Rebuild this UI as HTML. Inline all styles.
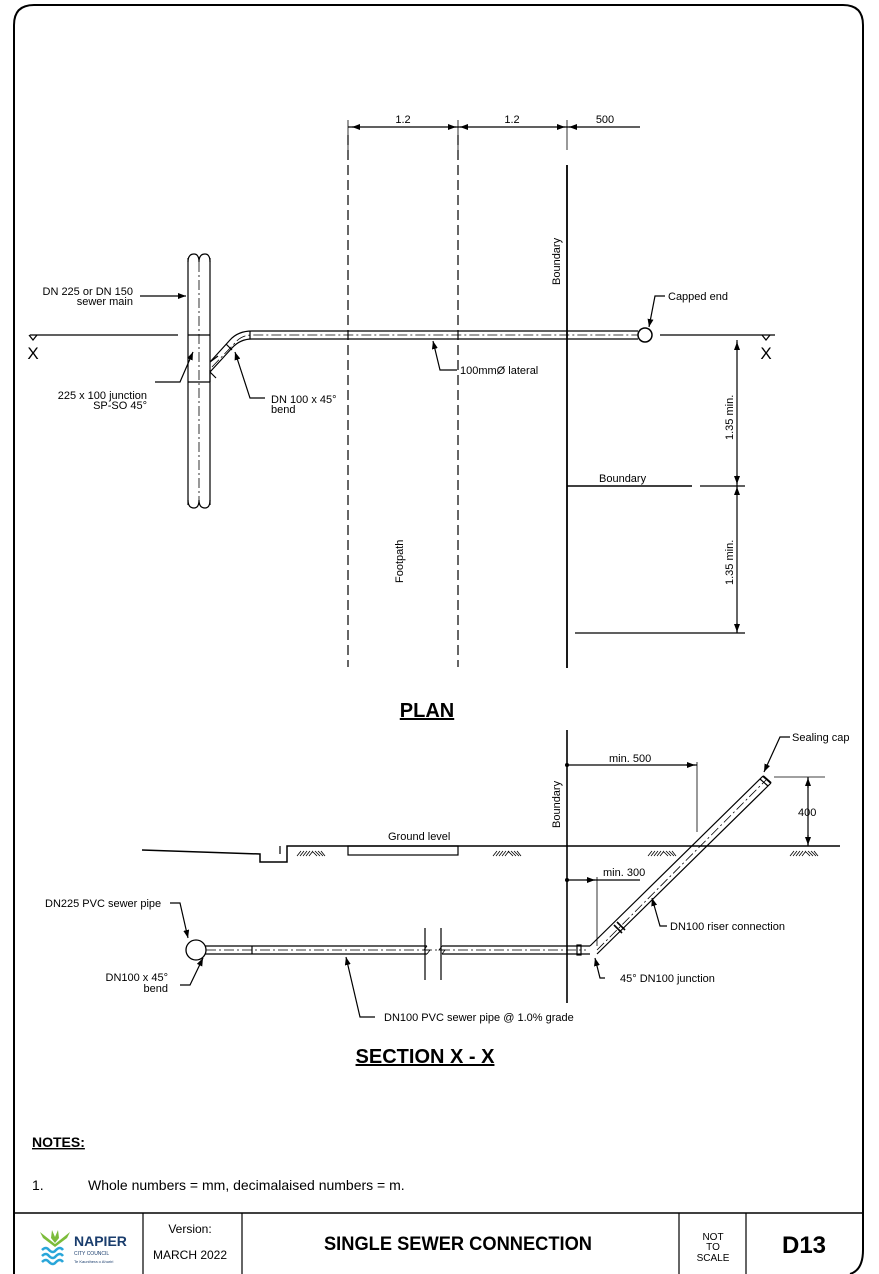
<!DOCTYPE html>
<html><head><meta charset="utf-8"><style>
html,body{margin:0;padding:0;background:#fff;}
svg{display:block;font-family:"Liberation Sans",Arial,sans-serif;}
</style></head><body>
<svg width="879" height="1274" viewBox="0 0 879 1274" xmlns="http://www.w3.org/2000/svg">
<defs>
<marker id="ar" markerWidth="8" markerHeight="6" refX="8" refY="3" orient="auto" markerUnits="userSpaceOnUse"><path d="M0,0 L8,3 L0,6 z" fill="#000"/></marker>
<marker id="ars" markerWidth="8" markerHeight="6" refX="0" refY="3" orient="auto" markerUnits="userSpaceOnUse"><path d="M8,0 L0,3 L8,6 z" fill="#000"/></marker>
<g id="hatch" stroke="#000" stroke-width="0.8" fill="none">
<path d="M0,8 l4,-5 M3,8 l4,-5 M6,8 l4,-5 M9,8 l4,-5 M12,8 l4,-5 M15,3 l5,5 M18,3 l5,5 M21,3 l5,5 M24,3 l4,5"/>
</g>
</defs>
<!-- frame -->
<path d="M14,1274 L14,25 Q14,5 34,5 L843,5 Q863,5 863,25 L863,1250 Q863,1270 850,1274" fill="none" stroke="#000" stroke-width="2"/>
<line x1="14" y1="1213" x2="863" y2="1213" stroke="#000" stroke-width="1.5"/>
<g stroke="#000" stroke-width="1.2">
<line x1="143" y1="1213" x2="143" y2="1274"/><line x1="242" y1="1213" x2="242" y2="1274"/>
<line x1="679" y1="1213" x2="679" y2="1274"/><line x1="746" y1="1213" x2="746" y2="1274"/>
</g>
<!-- logo -->
<g fill="#7cbc3a"><path d="M52,1230 l3,7 l3,-7 l1,8 l-4,5 l-4,-5z"/><path d="M40,1232 l15,12 l15,-12 l-3,6 l-12,9 l-12,-9z"/></g>
<g stroke="#2aa6d9" stroke-width="2.5" fill="none"><path d="M42,1250 q4,-4 7,0 q4,4 7,0 q4,-4 7,0"/><path d="M42,1256 q4,-4 7,0 q4,4 7,0 q4,-4 7,0"/><path d="M42,1262 q4,-4 7,0 q4,4 7,0 q4,-4 7,0"/></g>
<text x="74" y="1246" font-size="14" font-weight="bold" fill="#1a3d6d">NAPIER</text>
<text x="74" y="1255" font-size="5" fill="#1a3d6d">CITY COUNCIL</text>
<text x="74" y="1263" font-size="4" fill="#1a3d6d">Te Kaunihera o Ahuriri</text>
<text x="190" y="1233" font-size="12" text-anchor="middle">Version:</text>
<text x="190" y="1259" font-size="12" text-anchor="middle">MARCH 2022</text>
<text x="458" y="1250" font-size="19" font-weight="bold" text-anchor="middle" textLength="268" lengthAdjust="spacingAndGlyphs">SINGLE SEWER CONNECTION</text>
<text x="713" y="1240" font-size="10" text-anchor="middle">NOT</text>
<text x="713" y="1250" font-size="10" text-anchor="middle">TO</text>
<text x="713" y="1261" font-size="10" text-anchor="middle">SCALE</text>
<text x="804" y="1253" font-size="24" font-weight="bold" text-anchor="middle">D13</text>
<!-- notes -->
<text x="32" y="1147" font-size="14" font-weight="bold" text-decoration="underline">NOTES:</text>
<text x="32" y="1190" font-size="14">1.</text>
<text x="88" y="1190" font-size="14">Whole numbers = mm, decimalaised numbers = m.</text>

<g stroke="#000" fill="none" stroke-width="1.2">
<!-- PLAN dims -->
<line x1="348" y1="127" x2="567" y2="127"/>
<line x1="567" y1="127" x2="640" y2="127"/>
<line x1="348" y1="120" x2="348" y2="150" stroke-width="0.8"/>
<line x1="458" y1="120" x2="458" y2="150" stroke-width="0.8"/>
<line x1="567" y1="120" x2="567" y2="150" stroke-width="0.8"/>
<line x1="352" y1="127" x2="358" y2="127" marker-start="url(#ars)"/>
<line x1="448" y1="127" x2="456" y2="127" marker-end="url(#ar)"/>
<line x1="460" y1="127" x2="468" y2="127" marker-start="url(#ars)"/>
<line x1="557" y1="127" x2="565" y2="127" marker-end="url(#ar)"/>
<line x1="569" y1="127" x2="577" y2="127" marker-start="url(#ars)"/>
<!-- dashed footpath -->
<line x1="348" y1="135" x2="348" y2="667" stroke-dasharray="10,5"/>
<line x1="458" y1="135" x2="458" y2="667" stroke-dasharray="10,5"/>
<line x1="567" y1="165" x2="567" y2="668" stroke-width="1.8"/>
<!-- main pipe -->
<line x1="188" y1="258" x2="188" y2="505"/>
<line x1="210" y1="258" x2="210" y2="505"/>
<path d="M188,262 q0,-8 6,-8 q5,0 5,8 q0,-8 6,-8 q5,0 5,8"/>
<path d="M188,500 q0,8 6,8 q5,0 5,-8 q0,8 6,8 q5,0 5,-8"/>
<line x1="199" y1="262" x2="199" y2="502" stroke-width="0.8" stroke-dasharray="10,3,2,3"/>
<line x1="188" y1="335" x2="210" y2="335"/>
<line x1="188" y1="382" x2="210" y2="382"/>
<!-- section line X -->
<line x1="30" y1="335" x2="178" y2="335"/>
<line x1="660" y1="335" x2="775" y2="335"/>
<path d="M29,335 l4,5 l4,-5" />
<path d="M762,335 l4,5 l4,-5" />
<!-- bend + lateral -->
<path d="M210,362 L230,340 Q238,331 252,331 L638,331"/>
<path d="M210,382 L210,370 M210,372 L232,348 Q240,339 252,339 L638,339"/>
<path d="M210,372 L216,378 M210,362 L218,356"/>
<path d="M212,367 L234,344 Q241,335 252,335 L638,335" stroke-width="0.8" stroke-dasharray="10,3,2,3"/>
<line x1="250" y1="331" x2="250" y2="339"/>
<line x1="226" y1="344" x2="232" y2="350"/>
<circle cx="645" cy="335" r="7" stroke-width="1.5"/>
<!-- leaders -->
<line x1="140" y1="296" x2="186" y2="296" marker-end="url(#ar)"/>
<polyline points="155,382 180,382 193,352" marker-end="url(#ar)"/>
<polyline points="265,398 250,398 235,352" marker-end="url(#ar)"/>
<polyline points="457,370 440,370 433,341" marker-end="url(#ar)"/>
<polyline points="665,296 655,296 649,327" marker-end="url(#ar)"/>
<!-- right dims -->
<line x1="737" y1="340" x2="737" y2="633"/>
<line x1="737" y1="350" x2="737" y2="342" marker-end="url(#ar)"/>
<line x1="737" y1="475" x2="737" y2="484" marker-end="url(#ar)"/>
<line x1="737" y1="495" x2="737" y2="487" marker-end="url(#ar)"/>
<line x1="737" y1="623" x2="737" y2="632" marker-end="url(#ar)"/>
<line x1="567" y1="486" x2="692" y2="486" stroke-width="1.6"/>
<line x1="700" y1="486" x2="745" y2="486"/>
<line x1="575" y1="633" x2="745" y2="633"/>
<!-- SECTION -->
<line x1="567" y1="730" x2="567" y2="1003" stroke-width="1.6"/>
<path d="M142,850 L260,854 L260,862 L287,862 L287,846 L840,846" stroke-width="1.5"/>
<path d="M280,854 L280,846" />
<rect x="348" y="846" width="110" height="9"/>
<!-- main pipe horizontal -->
<line x1="205" y1="946" x2="427" y2="946"/><line x1="205" y1="954" x2="427" y2="954"/>
<line x1="442" y1="946" x2="590" y2="946"/><line x1="442" y1="954" x2="590" y2="954"/>
<path d="M427,946 l-3,4 l6,0 l-3,4" stroke-width="0.8"/>
<path d="M442,946 l-3,4 l6,0 l-3,4" stroke-width="0.8"/>
<line x1="425" y1="928" x2="425" y2="980"/><line x1="441" y1="928" x2="441" y2="980"/>
<line x1="188" y1="950" x2="586" y2="950" stroke-width="0.8" stroke-dasharray="10,3,2,3"/>
<line x1="252" y1="946" x2="252" y2="954"/>
<rect x="577" y="945" width="4" height="10"/>
<circle cx="196" cy="950" r="10" fill="#fff" stroke-width="1.3"/>
<!-- riser -->
<line x1="590" y1="946" x2="763" y2="776"/>
<line x1="597" y1="954" x2="771" y2="783"/>
<line x1="763" y1="776" x2="771" y2="783" stroke-width="2"/>
<line x1="760" y1="779" x2="768" y2="786"/>
<line x1="597" y1="950" x2="766" y2="780" stroke-width="0.8" stroke-dasharray="10,3,2,3"/>
<line x1="614" y1="925" x2="622" y2="933" stroke-width="1.6"/>
<line x1="617" y1="922" x2="625" y2="930" stroke-width="1.6"/>
<!-- section dims -->
<line x1="567" y1="765" x2="697" y2="765"/>
<line x1="686" y1="765" x2="695" y2="765" marker-end="url(#ar)"/>
<line x1="697" y1="762" x2="697" y2="832" stroke-width="0.8"/>
<line x1="567" y1="880" x2="640" y2="880"/>
<line x1="586" y1="880" x2="595" y2="880" marker-end="url(#ar)"/>
<line x1="597" y1="877" x2="597" y2="946" stroke-width="0.8"/>
<line x1="774" y1="777" x2="825" y2="777" stroke-width="0.8"/>
<line x1="808" y1="777" x2="808" y2="846"/>
<line x1="808" y1="788" x2="808" y2="778" marker-end="url(#ar)"/>
<line x1="808" y1="835" x2="808" y2="845" marker-end="url(#ar)"/>
<!-- section leaders -->
<polyline points="170,903 180,903 188,938" marker-end="url(#ar)"/>
<polyline points="180,985 190,985 203,958" marker-end="url(#ar)"/>
<polyline points="375,1017 360,1017 346,957" marker-end="url(#ar)"/>
<polyline points="605,978 600,978 595,958" marker-end="url(#ar)"/>
<polyline points="667,926 660,926 652,898" marker-end="url(#ar)"/>
<polyline points="790,737 780,737 764,772" marker-end="url(#ar)"/>
</g>
<circle cx="567" cy="765" r="2"/><circle cx="567" cy="880" r="2"/>
<use href="#hatch" x="297" y="848"/><use href="#hatch" x="493" y="848"/>
<use href="#hatch" x="648" y="848"/><use href="#hatch" x="790" y="848"/>

<!-- text -->
<g font-size="11">
<text x="403" y="123" text-anchor="middle">1.2</text>
<text x="512" y="123" text-anchor="middle">1.2</text>
<text x="605" y="123" text-anchor="middle">500</text>
<text x="133" y="295" text-anchor="end">DN 225 or DN 150</text>
<text x="133" y="305" text-anchor="end">sewer main</text>
<text x="147" y="399" text-anchor="end">225 x 100 junction</text>
<text x="147" y="409" text-anchor="end">SP-SO 45°</text>
<text x="271" y="403">DN 100 x 45°</text>
<text x="271" y="413">bend</text>
<text x="460" y="374">100mmØ lateral</text>
<text x="668" y="300">Capped end</text>
<text x="599" y="482">Boundary</text>
<text x="388" y="840">Ground level</text>
<text x="609" y="762">min. 500</text>
<text x="603" y="876">min. 300</text>
<text x="792" y="741">Sealing cap</text>
<text x="798" y="816">400</text>
<text x="45" y="907">DN225 PVC sewer pipe</text>
<text x="168" y="981" text-anchor="end">DN100 x 45°</text>
<text x="168" y="992" text-anchor="end">bend</text>
<text x="384" y="1021">DN100 PVC sewer pipe @ 1.0% grade</text>
<text x="620" y="982">45° DN100 junction</text>
<text x="670" y="930">DN100 riser connection</text>
<text transform="translate(560,285) rotate(-90)">Boundary</text>
<text transform="translate(560,828) rotate(-90)">Boundary</text>
<text transform="translate(403,583) rotate(-90)">Footpath</text>
<text transform="translate(733,440) rotate(-90)">1.35 min.</text>
<text transform="translate(733,585) rotate(-90)">1.35 min.</text>
</g>
<g font-size="17">
<text x="33" y="359" text-anchor="middle">X</text>
<text x="766" y="359" text-anchor="middle">X</text>
</g>
<text x="427" y="717" font-size="20" font-weight="bold" text-anchor="middle" text-decoration="underline">PLAN</text>
<text x="425" y="1063" font-size="20" font-weight="bold" text-anchor="middle" text-decoration="underline">SECTION X - X</text>
</svg>
</body></html>
